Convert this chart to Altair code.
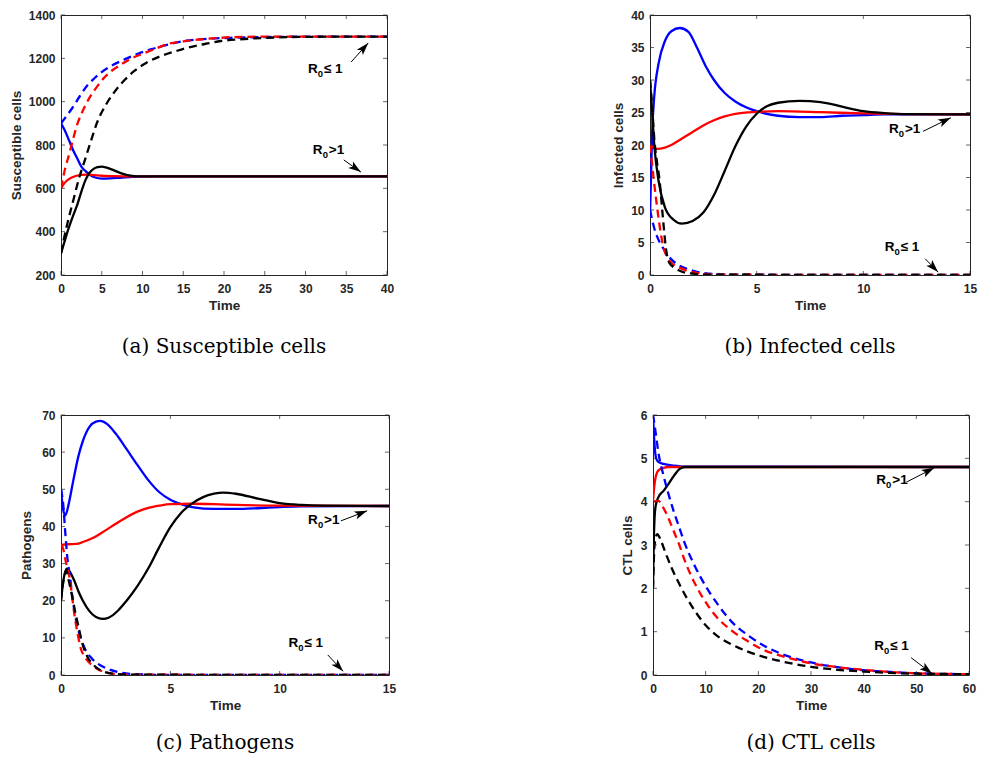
import math
import altair as alt
import pandas as pd

# ---------------- data ----------------
# (a) Susceptible cells, time 0..40
A_T_BLUE_SOLID = [0, 0.5, 1, 1.5, 2, 2.5, 3, 3.5, 4.2, 5, 6, 7.5, 9.5, 12, 40]
A_V_BLUE_SOLID = [900, 865, 820, 775, 738, 700, 680, 663, 650, 645, 646, 650, 654, 655, 655]
A_T_RED_SOLID = [0, 0.3, 0.7, 1.2, 1.8, 2.5, 3.2, 4, 5, 6.5, 9, 40]
A_V_RED_SOLID = [600, 618, 635, 648, 657, 662, 663, 661, 658, 656, 655, 655]
A_T_BLACK_SOLID = [0, 0.4, 0.8, 1.4, 2, 2.5, 3, 3.5, 4, 4.5, 5, 5.5, 6.5, 7.5, 8.5, 10, 12, 40]
A_V_BLACK_SOLID = [300, 350, 400, 465, 525, 585, 638, 672, 690, 698, 700, 697, 683, 668, 659, 655, 655, 655]
A_T_BLUE_DASH = [0, 0.7, 1.43, 2.3, 3.27, 4.1, 4.9, 6.3, 7.8, 9.5, 11, 13, 15.1, 18, 21, 25, 30, 40]
A_V_BLUE_DASH = [900, 935, 973, 1025, 1077, 1108, 1134, 1168, 1195, 1222, 1241, 1262, 1280, 1290, 1295, 1298, 1300, 1300]
A_T_RED_DASH = [0, 0.5, 1, 1.5, 2, 2.7, 3.5, 4.4, 5.3, 6.3, 7.4, 8.5, 9.8, 11.5, 13, 15, 17.2, 19, 21, 25, 30, 40]
A_V_RED_DASH = [600, 690, 757, 830, 896, 960, 1019, 1068, 1111, 1145, 1172, 1197, 1218, 1243, 1265, 1278, 1288, 1293, 1298, 1300, 1300, 1300]
A_T_BLACK_DASH = [0, 0.4, 0.8, 1.6, 2.2, 2.9, 3.6, 4.5, 5.5, 6.5, 7.8, 9, 10.5, 12.3, 14, 15.5, 17.5, 19.6, 22, 25.4, 30, 35, 40]
A_V_BLACK_DASH = [300, 374, 440, 558, 645, 727, 810, 911, 985, 1042, 1100, 1142, 1180, 1211, 1232, 1249, 1265, 1280, 1288, 1295, 1299, 1300, 1300]

# (b) Infected cells, time 0..15
B_T_BLUE_SOLID = [0, 0.1, 0.2, 0.4, 0.7, 1.0, 1.4, 1.8, 2.2, 2.6, 3.0, 3.5, 4, 4.5, 5, 6, 7, 8, 9, 10, 11, 15]
B_V_BLUE_SOLID = [9, 22, 27.5, 32.5, 36, 37.5, 38, 37.4, 35, 32.2, 30, 28, 26.7, 25.8, 25.2, 24.5, 24.3, 24.3, 24.5, 24.6, 24.7, 24.7]
B_T_RED_SOLID = [0, 0.3, 0.7, 1, 1.5, 2, 2.5, 3, 3.5, 4, 5, 6, 8, 10, 12, 15]
B_V_RED_SOLID = [20, 19.4, 19.6, 20, 21, 22, 23, 23.8, 24.4, 24.8, 25.1, 25.2, 25.05, 24.85, 24.75, 24.7]
B_T_BLACK_SOLID = [0, 0.1, 0.2, 0.4, 0.7, 1.1, 1.5, 2, 2.5, 3, 3.5, 4, 4.5, 5, 5.5, 6, 7, 8, 9, 10, 11, 12, 15]
B_V_BLACK_SOLID = [30, 25, 20, 14.5, 10.4, 8.5, 7.9, 8.3, 9.6, 12.3, 16, 19.8, 22.8, 24.8, 26, 26.5, 26.8, 26.6, 25.9, 25.2, 24.9, 24.75, 24.7]
B_T_BLUE_DASH = [0, 0.1, 0.2, 0.4, 0.6, 0.8, 1.0, 1.3, 1.7, 2.2, 3, 4, 15]
B_V_BLUE_DASH = [10, 8.5, 7.2, 5.4, 4.2, 3.2, 2.4, 1.6, 1.0, 0.5, 0.15, 0.05, 0]
B_T_RED_DASH = [0, 0.1, 0.2, 0.35, 0.5, 0.65, 0.8, 1.0, 1.4, 1.8, 2.5, 3.5, 15]
B_V_RED_DASH = [20, 17, 14, 10, 6.5, 4, 2.8, 1.9, 1.1, 0.6, 0.2, 0.05, 0]
B_T_BLACK_DASH = [0, 0.1, 0.2, 0.3, 0.45, 0.6, 0.75, 0.9, 1.2, 1.5, 2, 3, 15]
B_V_BLACK_DASH = [30, 26, 21, 18, 14.5, 9, 4, 1.9, 1.0, 0.5, 0.2, 0.05, 0]

# (c) Pathogens, time 0..15
C_T_BLUE_SOLID = [0, 0.1, 0.2, 0.35, 0.55, 0.8, 1.0, 1.3, 1.6, 1.8, 2.1, 2.5, 3, 3.5, 4, 4.5, 5, 5.5, 6, 7, 8, 9, 10, 11, 15]
C_V_BLUE_SOLID = [50, 44.5, 43, 46, 52, 59, 63, 66.8, 68.2, 68.4, 67.6, 65, 60.8, 56.5, 52.4, 49.2, 47.2, 46, 45.2, 44.7, 44.7, 44.9, 45.2, 45.4, 45.5]
C_T_RED_SOLID = [0, 0.3, 0.7, 1, 1.5, 2, 2.5, 3, 3.5, 4, 4.5, 5, 6, 7, 8, 10, 15]
C_V_RED_SOLID = [35, 35.2, 35.3, 35.8, 37, 38.8, 40.7, 42.5, 44, 45, 45.6, 46, 46.1, 46, 45.8, 45.6, 45.5]
C_T_BLACK_SOLID = [0, 0.1, 0.25, 0.4, 0.6, 0.8, 1, 1.3, 1.6, 1.9, 2.2, 2.6, 3, 3.5, 4, 4.5, 5, 5.5, 6, 6.5, 7, 7.4, 8, 9, 10, 11, 12, 15]
C_V_BLACK_SOLID = [20, 25, 28.6, 27.8, 25.5, 22.5, 20, 17.2, 15.6, 15.1, 15.5, 17.3, 20, 24, 28.8, 34.5, 39.8, 43.7, 46.2, 47.9, 48.8, 49.1, 48.8, 47.5, 46.3, 45.8, 45.6, 45.5]
C_T_BLUE_DASH = [0, 0.1, 0.2, 0.3, 0.4, 0.5, 0.62, 0.75, 0.9, 1.1, 1.4, 1.8, 2.2, 2.7, 3.5, 5, 15]
C_V_BLUE_DASH = [50, 46, 38, 31, 27, 22, 17, 13, 10, 7, 4.5, 2.6, 1.5, 0.7, 0.2, 0, 0]
C_T_RED_DASH = [0, 0.1, 0.2, 0.3, 0.4, 0.5, 0.62, 0.75, 0.9, 1.1, 1.4, 1.7, 2.2, 3, 15]
C_V_RED_DASH = [35, 34, 31, 28.5, 26, 21.5, 16, 11.5, 7.2, 4.8, 2.7, 1.5, 0.5, 0.1, 0]
C_T_BLACK_DASH = [0, 0.1, 0.25, 0.35, 0.5, 0.65, 0.8, 1, 1.2, 1.5, 1.8, 2.2, 3, 15]
C_V_BLACK_DASH = [20, 25, 28, 25.5, 21.5, 17, 13, 8, 5, 2.6, 1.3, 0.5, 0.1, 0]

# (d) CTL cells, time 0..60
D_T_BLUE_SOLID = [0, 0.2, 0.4, 0.6, 1, 2, 4, 6, 60]
D_V_BLUE_SOLID = [6, 5.5, 5.15, 5.0, 4.92, 4.87, 4.83, 4.81, 4.8]
D_T_RED_SOLID = [0, 0.2, 0.4, 0.7, 1.2, 2, 3, 60]
D_V_RED_SOLID = [4.0, 4.3, 4.5, 4.65, 4.74, 4.78, 4.8, 4.8]
D_T_BLACK_SOLID = [0, 0.1, 0.25, 0.5, 1, 2, 3, 4, 5, 6, 60]
D_V_BLACK_SOLID = [2.0, 2.8, 3.5, 3.9, 4.1, 4.25, 4.42, 4.6, 4.75, 4.8, 4.8]
D_T_BLUE_DASH = [0, 0.5, 1, 2, 3, 4, 5, 6, 8, 10, 12, 15, 18, 21, 25, 30, 35, 40, 45, 50, 60]
D_V_BLUE_DASH = [6, 5.6, 5.15, 4.6, 4.15, 3.75, 3.4, 3.05, 2.5, 2.05, 1.68, 1.22, 0.92, 0.68, 0.46, 0.29, 0.18, 0.11, 0.07, 0.04, 0.02]
D_T_RED_DASH = [0, 1, 2, 3, 4, 5, 6, 8, 10, 12, 15, 18, 21, 25, 30, 35, 40, 45, 50, 60]
D_V_RED_DASH = [4.0, 4.02, 3.85, 3.6, 3.3, 3.0, 2.65, 2.1, 1.68, 1.35, 1.02, 0.78, 0.58, 0.42, 0.27, 0.18, 0.12, 0.07, 0.04, 0.02]
D_T_BLACK_DASH = [0, 0.3, 0.8, 1.5, 2.5, 3.5, 5, 6.5, 8, 10, 12, 15, 18, 21, 25, 30, 35, 40, 45, 50, 60]
D_V_BLACK_DASH = [2.0, 3.0, 3.25, 3.1, 2.78, 2.48, 2.1, 1.76, 1.47, 1.15, 0.92, 0.7, 0.54, 0.42, 0.3, 0.19, 0.12, 0.08, 0.05, 0.03, 0.02]

# tick values
A_XTICKS = [0, 5, 10, 15, 20, 25, 30, 35, 40]
A_YTICKS = [200, 400, 600, 800, 1000, 1200, 1400]
B_XTICKS = [0, 5, 10, 15]
B_YTICKS = [0, 5, 10, 15, 20, 25, 30, 35, 40]
C_XTICKS = [0, 5, 10, 15]
C_YTICKS = [0, 10, 20, 30, 40, 50, 60, 70]
D_XTICKS = [0, 10, 20, 30, 40, 50, 60]
D_YTICKS = [0, 1, 2, 3, 4, 5, 6]

# annotations: label suffix, text anchor (t, v), arrow tail (t, v), arrow tip (t, v)
A_NOTES = [("≤ 1", (30.3, 1151), (35.6, 1183), (37.7, 1271)),
           (">1", (30.9, 777), (34.7, 731), (36.8, 675))]
B_NOTES = [(">1", (11.2, 22.5), (12.8, 22.1), (14.1, 24.2)),
           ("≤ 1", (11.0, 4.3), (12.9, 2.5), (13.5, 0.45))]
C_NOTES = [(">1", (11.3, 41.7), (12.8, 41.5), (14.0, 44.2)),
           ("≤ 1", (10.4, 8.6), (12.2, 5.4), (12.9, 1.0))]
D_NOTES = [(">1", (42.4, 4.5), (48.1, 4.45), (53.4, 4.78)),
           ("≤ 1", (42.0, 0.68), (49.0, 0.4), (53.0, 0.03))]

# ---------------- styling ----------------
SANS = "Liberation Sans"
SERIF = "DejaVu Serif"
AX = "#262626"
BLUE, RED, BLACK = "#0000FF", "#FF0000", "#000000"
HEAD = "M0,0L-0.42,1.3L0,1.0L0.42,1.3Z"


def make_panel(caption, ylabel, xdom, ydom, xticks, yticks, series, notes, w, h, ytitle_pad, cap_dy):
    xs = alt.Scale(domain=xdom, nice=False, zero=False)
    ys = alt.Scale(domain=ydom, nice=False, zero=False)
    common_ax = dict(grid=False, ticks=False, domain=False, labelFont=SANS, labelFontSize=12,
                     labelFontWeight="bold", labelColor=AX, titleFont=SANS, titleFontSize=13.5,
                     titleFontWeight="bold", titleColor=AX, format="d", labelOverlap=False)
    xax = alt.Axis(values=xticks, title="Time", labelFlush=False, labelPadding=8, titlePadding=4, **common_ax)
    yax = alt.Axis(values=yticks, title=ylabel, labelPadding=6, titlePadding=ytitle_pad, **common_ax)

    def X(f):
        return alt.X(f, scale=xs, axis=xax)

    def Y(f):
        return alt.Y(f, scale=ys, axis=yax)

    layers = []
    for t, v, color, dashed in series:
        df = pd.DataFrame({"t": t, "v": v})
        kw = dict(color=color, strokeWidth=2.3, interpolate="monotone", clip=True)
        if dashed:
            kw["strokeDash"] = [8, 5]
        layers.append(alt.Chart(df).mark_line(**kw).encode(x=X("t:Q"), y=Y("v:Q")))

    # inward ticks on all four sides
    L = 4
    dxt = pd.DataFrame({"val": xticks, "lo": [ydom[0]] * len(xticks), "hi": [ydom[1]] * len(xticks)})
    dyt = pd.DataFrame({"val": yticks, "lo": [xdom[0]] * len(yticks), "hi": [xdom[1]] * len(yticks)})
    tk = dict(color=AX, thickness=1, size=L)
    layers.append(alt.Chart(dxt).mark_tick(orient="vertical", yOffset=-L / 2, **tk).encode(
        x=X("val:Q"), y=Y("lo:Q")))
    layers.append(alt.Chart(dxt).mark_tick(orient="vertical", yOffset=L / 2, **tk).encode(
        x=X("val:Q"), y=Y("hi:Q")))
    layers.append(alt.Chart(dyt).mark_tick(orient="horizontal", xOffset=L / 2, **tk).encode(
        y=Y("val:Q"), x=X("lo:Q")))
    layers.append(alt.Chart(dyt).mark_tick(orient="horizontal", xOffset=-L / 2, **tk).encode(
        y=Y("val:Q"), x=X("hi:Q")))

    # annotations
    kx = w / (xdom[1] - xdom[0])
    ky = h / (ydom[1] - ydom[0])
    for suffix, txt, tail, tip in notes:
        tdf = pd.DataFrame({"t": [txt[0]], "v": [txt[1]]})
        enc = dict(x=X("t:Q"), y=Y("v:Q"))
        tstyle = dict(align="left", baseline="middle", font=SANS, fontWeight="bold", color=BLACK)
        layers.append(alt.Chart(tdf).mark_text(text="R", fontSize=13.5, **tstyle).encode(**enc))
        layers.append(alt.Chart(tdf).mark_text(text="0", fontSize=9.5, dx=9.8, dy=5, **tstyle).encode(**enc))
        layers.append(alt.Chart(tdf).mark_text(text=suffix, fontSize=13.5, dx=16, **tstyle).encode(**enc))
        adf = pd.DataFrame({"t": [tail[0]], "v": [tail[1]], "t2": [tip[0]], "v2": [tip[1]]})
        layers.append(alt.Chart(adf).mark_rule(color=BLACK, strokeWidth=1).encode(
            x=X("t:Q"), y=Y("v:Q"), x2="t2:Q", y2="v2:Q"))
        dxp = (tip[0] - tail[0]) * kx
        dyp = -(tip[1] - tail[1]) * ky
        ang = math.degrees(math.atan2(dxp, -dyp)) % 360
        hdf = pd.DataFrame({"t": [tip[0]], "v": [tip[1]]})
        layers.append(alt.Chart(hdf).mark_point(shape=HEAD, filled=True, size=380, angle=ang,
                                                color=BLACK, opacity=1, strokeWidth=0).encode(**enc))

    # caption below the panel
    cdf = pd.DataFrame({"caption": [caption]})
    layers.append(alt.Chart(cdf).mark_text(font=SERIF, fontSize=20, align="center", baseline="middle",
                                           color=BLACK).encode(
        text="caption:N", x=alt.value(w / 2), y=alt.value(h + cap_dy)))

    return alt.layer(*layers).properties(width=w, height=h)


def series(prefix):
    g = globals()
    out = []
    for dashed in (False, True):
        for cname, col in (("BLUE", BLUE), ("RED", RED), ("BLACK", BLACK)):
            suf = "DASH" if dashed else "SOLID"
            out.append((g[f"{prefix}_T_{cname}_{suf}"], g[f"{prefix}_V_{cname}_{suf}"], col, dashed))
    return out


pa = make_panel("(a) Susceptible cells", "Susceptible cells", [0, 40], [200, 1400], A_XTICKS, A_YTICKS,
                series("A"), A_NOTES, 326, 260, 5, 72)
pb = make_panel("(b) Infected cells", "Infected cells", [0, 15], [0, 40], B_XTICKS, B_YTICKS,
                series("B"), B_NOTES, 320, 260, 5, 72)
pc = make_panel("(c) Pathogens", "Pathogens", [0, 15], [0, 70], C_XTICKS, C_YTICKS,
                series("C"), C_NOTES, 328, 260, 8, 68)
pd_ = make_panel("(d) CTL cells", "CTL cells", [0, 60], [0, 6], D_XTICKS, D_YTICKS,
                 series("D"), D_NOTES, 316, 260, 6, 68)

chart = alt.vconcat(
    alt.hconcat(pa, pb, spacing=216),
    alt.hconcat(pc, pd_, spacing=222),
    spacing=50,
).configure_view(stroke=AX, strokeWidth=1).properties(
    background="white", padding={"left": 0, "top": 0, "right": 0, "bottom": 0})

chart.save("out.html", embed_options={"renderer": "svg", "actions": False})
